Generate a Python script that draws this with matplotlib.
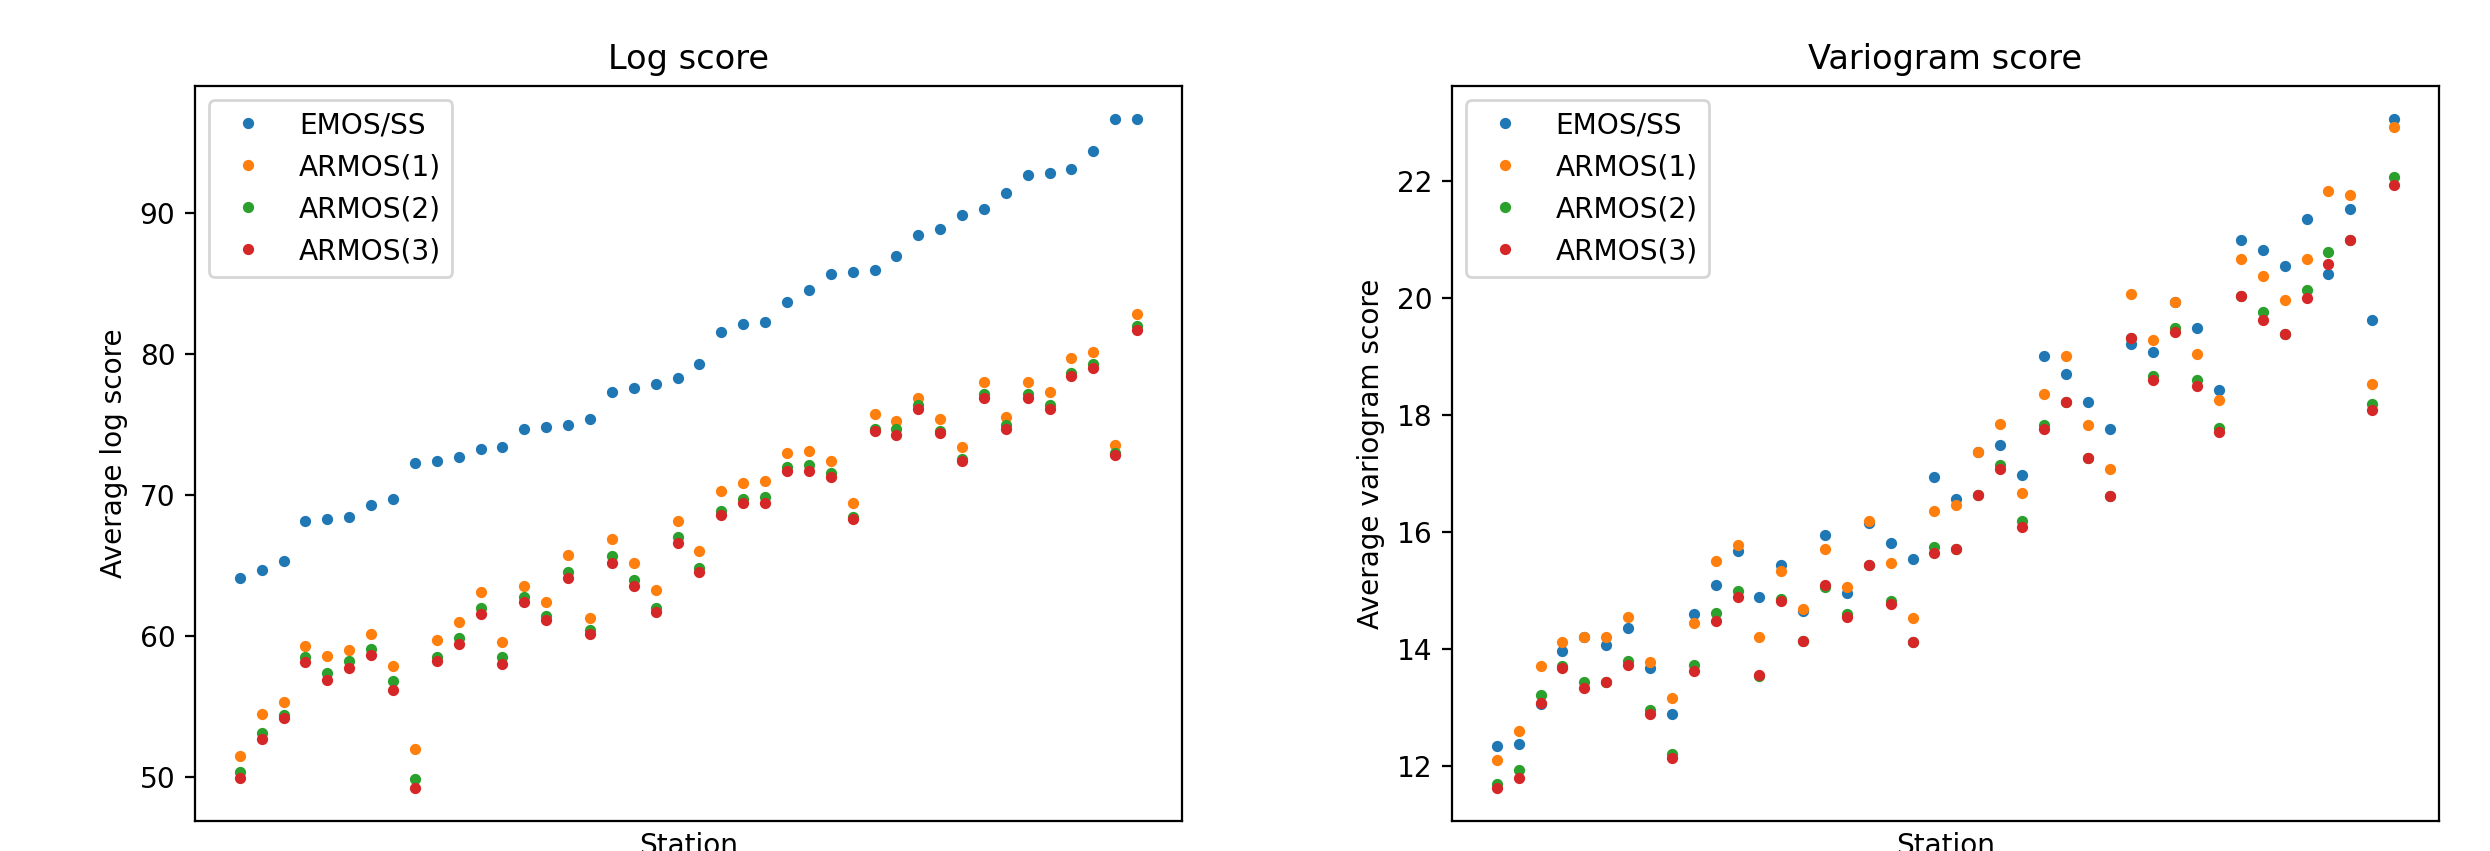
# Scores per station: log score and variogram score
import numpy as np
import matplotlib.pyplot as plt

labels = ["EMOS/SS", "ARMOS(1)", "ARMOS(2)", "ARMOS(3)"]

# Log score per station (stations sorted by EMOS/SS)
log_emos = [64.08, 64.65, 65.32, 68.13, 68.27, 68.45, 69.26, 69.72, 72.25, 72.39,
            72.68, 73.24, 73.38, 74.65, 74.79, 74.93, 75.35, 77.32, 77.61, 77.89,
            78.31, 79.30, 81.55, 82.11, 82.25, 83.66, 84.51, 85.63, 85.77, 85.92,
            86.90, 88.45, 88.87, 89.86, 90.28, 91.41, 92.68, 92.82, 93.10, 94.37,
            96.62, 96.62]
log_ar1 = [51.51, 54.47, 55.32, 59.30, 58.59, 59.01, 60.14, 57.89, 51.97, 59.72,
           60.99, 63.10, 59.58, 63.52, 62.39, 65.77, 61.27, 66.90, 65.21, 63.24,
           68.17, 66.06, 70.28, 70.85, 70.99, 72.96, 73.10, 72.39, 69.44, 75.77,
           75.21, 76.90, 75.35, 73.38, 78.03, 75.49, 78.03, 77.32, 79.72, 80.14,
           73.52, 82.82]
log_ar2 = [50.35, 53.13, 54.40, 58.52, 57.36, 58.24, 59.05, 56.80, 49.89, 58.52,
           59.89, 62.01, 58.52, 62.75, 61.44, 64.54, 60.46, 65.67, 63.98, 62.01,
           67.04, 64.82, 68.87, 69.72, 69.86, 71.97, 72.11, 71.55, 68.45, 74.65,
           74.65, 76.34, 74.51, 72.54, 77.18, 74.93, 77.18, 76.34, 78.66, 79.30,
           72.96, 81.97]
log_ar3 = [49.96, 52.68, 54.19, 58.17, 56.90, 57.75, 58.63, 56.20, 49.26, 58.20,
           59.44, 61.55, 58.03, 62.39, 61.13, 64.08, 60.14, 65.21, 63.52, 61.69,
           66.62, 64.51, 68.59, 69.44, 69.44, 71.69, 71.69, 71.27, 68.31, 74.51,
           74.23, 76.06, 74.37, 72.39, 76.90, 74.65, 76.90, 76.06, 78.45, 79.01,
           72.82, 81.69]

# Variogram score per station
vs_emos = [12.34, 12.37, 13.05, 13.97, 14.21, 14.07, 14.35, 13.67, 12.88, 14.59,
           15.10, 15.67, 14.89, 15.44, 14.65, 15.95, 14.96, 16.15, 15.81, 15.54,
           16.93, 16.56, 17.37, 17.48, 16.97, 19.01, 18.70, 18.22, 17.75, 19.21,
           19.07, 19.93, 19.48, 18.43, 20.98, 20.81, 20.54, 21.35, 20.40, 21.52,
           19.62, 23.05]
vs_ar1 = [12.10, 12.60, 13.70, 14.11, 14.21, 14.21, 14.55, 13.77, 13.16, 14.45,
          15.50, 15.78, 14.21, 15.33, 14.69, 15.71, 15.06, 16.18, 15.47, 14.52,
          16.35, 16.46, 17.37, 17.85, 16.66, 18.36, 19.01, 17.82, 17.07, 20.06,
          19.28, 19.93, 19.04, 18.26, 20.67, 20.37, 19.96, 20.67, 21.83, 21.76,
          18.53, 22.92]
vs_ar2 = [11.69, 11.93, 13.22, 13.70, 13.43, 13.44, 13.80, 12.95, 12.20, 13.73,
          14.62, 14.99, 13.53, 14.86, 14.14, 15.06, 14.59, 15.44, 14.82, 14.11,
          15.74, 15.71, 16.63, 17.14, 16.18, 17.82, 18.22, 17.27, 16.61, 19.31,
          18.67, 19.48, 18.60, 17.78, 20.03, 19.76, 19.38, 20.13, 20.78, 20.98,
          18.19, 22.07]
vs_ar3 = [11.63, 11.80, 13.07, 13.67, 13.33, 13.43, 13.73, 12.88, 12.14, 13.63,
          14.48, 14.89, 13.56, 14.82, 14.14, 15.10, 14.55, 15.44, 14.76, 14.11,
          15.64, 15.71, 16.63, 17.07, 16.08, 17.75, 18.22, 17.27, 16.61, 19.31,
          18.60, 19.41, 18.50, 17.71, 20.03, 19.62, 19.38, 19.99, 20.57, 20.98,
          18.09, 21.93]

stations = np.arange(len(log_emos))

dpi = 202
fig = plt.figure(figsize=(2490 / dpi, 851 / dpi), dpi=dpi)
ax1 = fig.add_axes([0.0783, 0.0353, 0.3964, 0.8637])
ax2 = fig.add_axes([0.5831, 0.0353, 0.3964, 0.8637])

# Log score panel
for vals, lab in zip([log_emos, log_ar1, log_ar2, log_ar3], labels):
    ax1.plot(stations, vals, ".", label=lab)
ax1.set_title("Log score")
ax1.set_xlabel("Station")
ax1.set_ylabel("Average log score")
ax1.set_xticks([])
ax1.legend(loc="upper left")

# Variogram score panel
for vals, lab in zip([vs_emos, vs_ar1, vs_ar2, vs_ar3], labels):
    ax2.plot(stations, vals, ".", label=lab)
ax2.set_title("Variogram score")
ax2.set_xlabel("Station")
ax2.set_ylabel("Average variogram score")
ax2.set_xticks([])
ax2.legend(loc="upper left")

plt.savefig("out.png", dpi=dpi)
